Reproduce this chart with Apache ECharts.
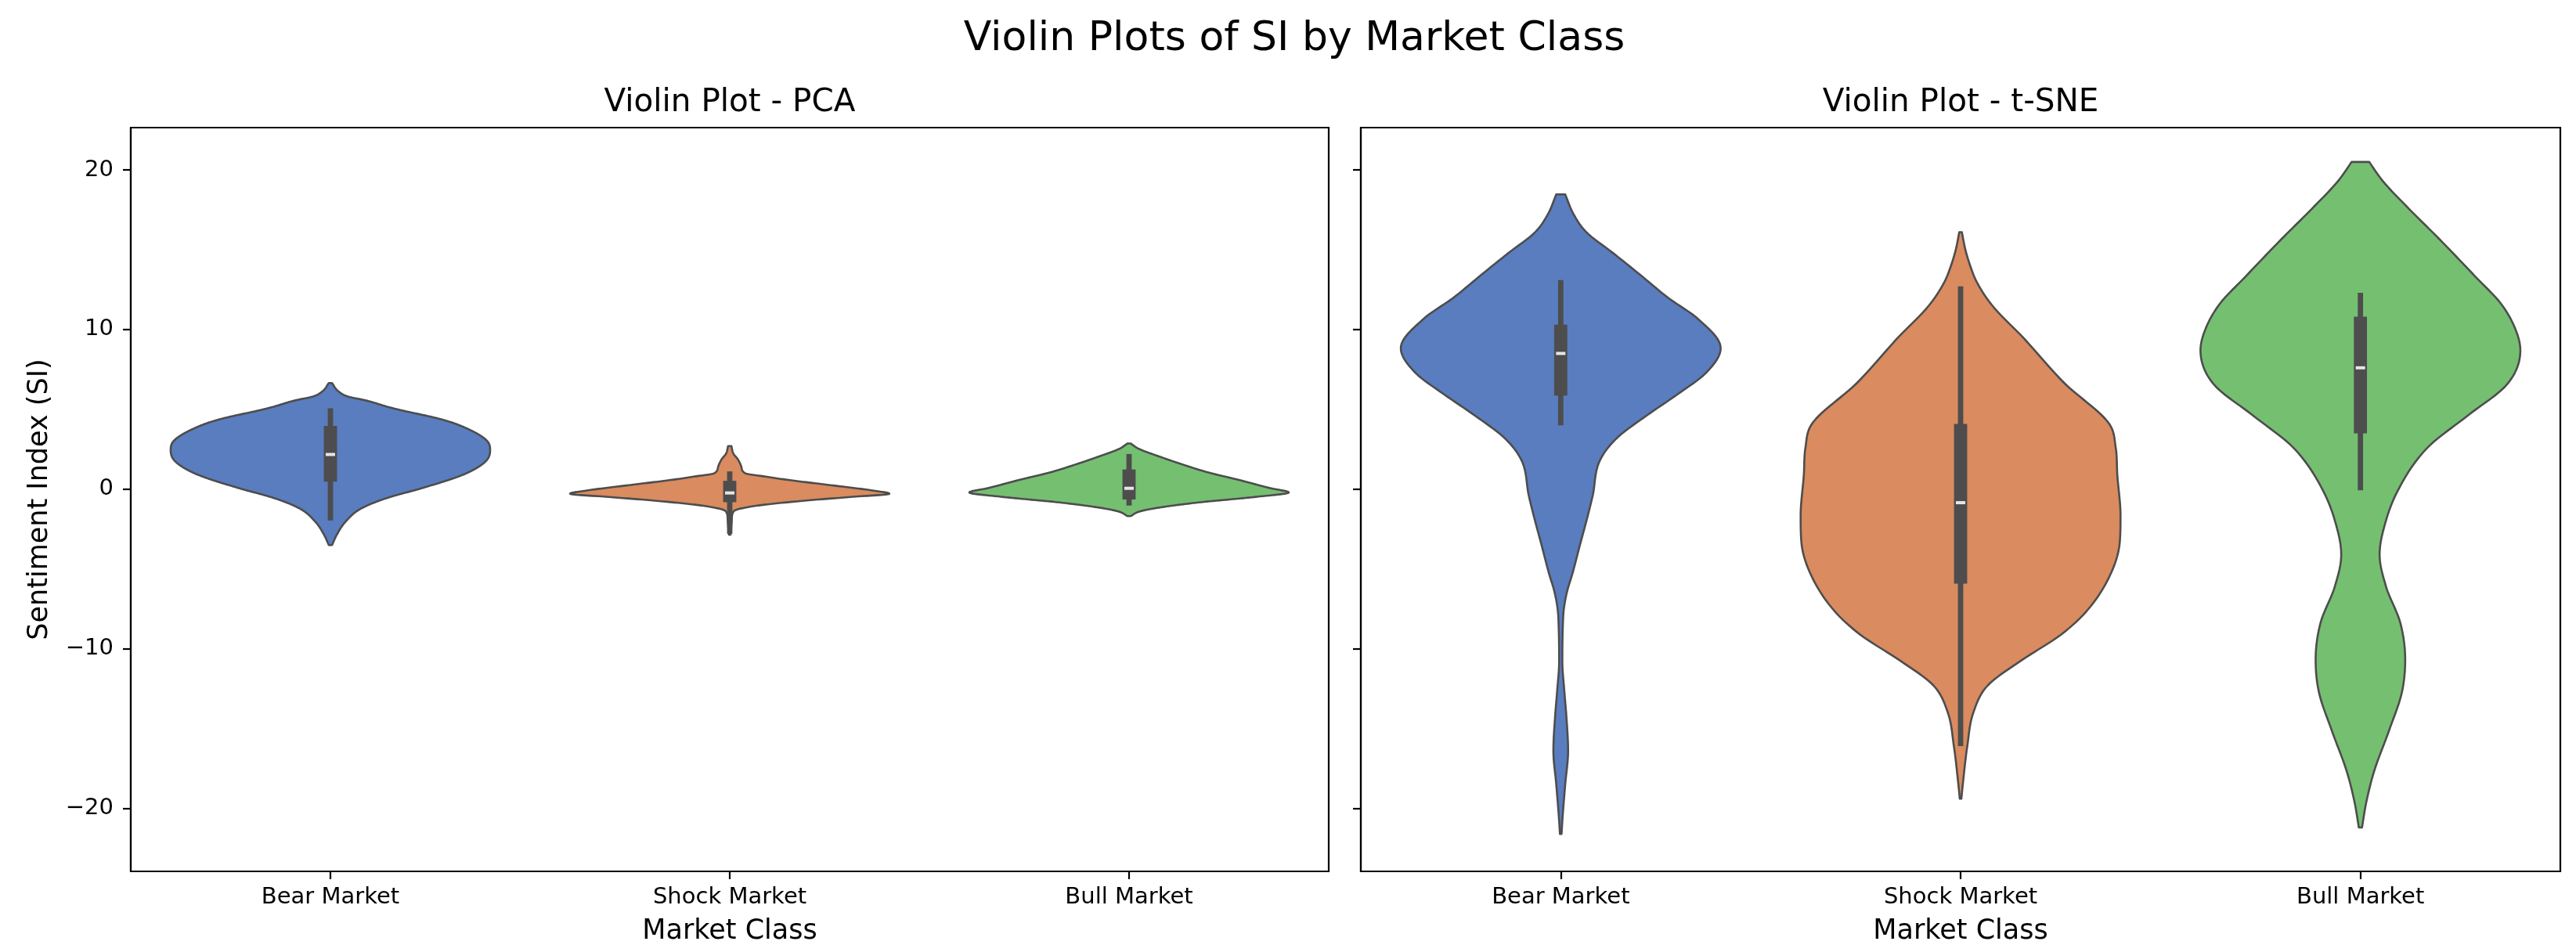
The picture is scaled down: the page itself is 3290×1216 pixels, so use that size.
<!DOCTYPE html>
<html lang="en">
<head>
    <meta charset="UTF-8" />
    <title>Violin Plots of SI by Market Class</title>
    <script src="https://cdn.jsdelivr.net/npm/echarts@6.0.0/dist/echarts.min.js"></script>
    <style>
        html, body { margin: 0; padding: 0; background: #fff; }
        #main { width: 3290px; height: 1216px; }
    </style>
</head>
<body>
    <div id="main"></div>
    <script type="text/javascript">
        // categories and axis ticks
        const categories = ["Bear Market", "Shock Market", "Bull Market"];
        const yTicks = [-20, -10, 0, 10, 20];
        const violinColors = ["#597dbf", "#da8b5f", "#75bf71"];

        // violin outlines: SI level -> relative half width (1 = widest)
        const pcaBearLevels = [6.65, 6.13, 5.8, 5.56, 5.07, 4.33, 3.68, 3.03, 2.45, 1.72, 0.9, 0.08, -0.57, -1.23, -2.04, -2.86, -3.51];
        const pcaBearWidths = [0.01, 0.05, 0.11, 0.22, 0.39, 0.71, 0.88, 0.98, 1.0, 0.97, 0.83, 0.58, 0.35, 0.19, 0.095, 0.04, 0.01];
        const pcaShockLevels = [2.7, 2.21, 1.88, 1.39, 0.98, 0.82, 0.57, 0.25, -0.08, -0.29, -0.49, -0.74, -1.06, -1.39, -1.88, -2.85];
        const pcaShockWidths = [0.01, 0.024, 0.05, 0.073, 0.1, 0.2, 0.37, 0.63, 0.89, 1.0, 0.76, 0.45, 0.155, 0.025, 0.013, 0.005];
        const pcaBullLevels = [2.86, 2.53, 2.04, 1.56, 1.06, 0.57, 0.07, -0.21, -0.49, -0.82, -1.14, -1.39, -1.69];
        const pcaBullWidths = [0.01, 0.06, 0.19, 0.33, 0.49, 0.69, 0.88, 1.0, 0.79, 0.45, 0.2, 0.07, 0.01];

        const tsneBearLevels = [18.47, 17.23, 16.1, 14.77, 13.4, 12.0, 10.65, 8.83, 7.3, 5.94, 4.56, 3.19, 1.8, -0.4, -1.9, -3.5, -5.3, -6.4, -7.55, -8.6, -10.8, -12.6, -14.2, -16.4, -18.5, -20.5, -21.6];
        const tsneBearWidths = [0.028, 0.08, 0.16, 0.33, 0.5, 0.67, 0.86, 1.0, 0.91, 0.73, 0.53, 0.35, 0.245, 0.2, 0.163, 0.12, 0.073, 0.04, 0.019, 0.013, 0.01, 0.022, 0.035, 0.046, 0.028, 0.012, 0.005];
        const tsneShockLevels = [16.1, 15.0, 14.0, 13.0, 11.53, 9.4, 6.63, 4.08, 2.6, 0.89, -1.66, -3.36, -5.49, -7.62, -9.1, -10.8, -12.3, -14.0, -16.1, -18.3, -19.4];
        const tsneShockWidths = [0.008, 0.03, 0.06, 0.1, 0.196, 0.4, 0.65, 0.93, 0.97, 0.98, 1.0, 0.995, 0.93, 0.79, 0.63, 0.37, 0.17, 0.08, 0.042, 0.016, 0.005];
        const tsneBullLevels = [20.5, 19.3, 17.6, 15.6, 13.3, 11.6, 10.0, 8.7, 6.6, 4.6, 2.6, -0.07, -2.7, -4.1, -6.1, -8.4, -10.7, -12.7, -15.1, -17.7, -19.7, -21.2];
        const tsneBullWidths = [0.055, 0.14, 0.3, 0.5, 0.72, 0.88, 0.97, 1.0, 0.92, 0.67, 0.42, 0.235, 0.14, 0.12, 0.16, 0.25, 0.28, 0.26, 0.18, 0.085, 0.035, 0.01];

        // inner box: [whisker low, q1, median, q3, whisker high]
        const pcaBoxes = [[-1.96, 0.46, 2.17, 3.96, 5.07], [-2.8, -0.82, -0.24, 0.52, 1.11], [-1.03, -0.65, 0.05, 1.23, 2.2]];
        const tsneBoxes = [[4.0, 5.86, 8.5, 10.3, 13.1], [-16.1, -5.92, -0.85, 4.08, 12.7], [-0.07, 3.5, 7.6, 10.8, 12.3]];

        const FONT = "DejaVu Sans";
        const LINE = "#4d4d4d";

        // monotone cubic (Fritsch-Carlson) so the outline is smooth between the read points
        function monotoneSampler(xsIn, ysIn) {
            const xs = xsIn.slice().reverse();
            const ys = ysIn.slice().reverse();
            const n = xs.length;
            const m = [];
            for (let k = 0; k < n - 1; k++) m.push((ys[k + 1] - ys[k]) / (xs[k + 1] - xs[k]));
            const t = new Array(n);
            t[0] = m[0];
            t[n - 1] = m[n - 2];
            for (let k = 1; k < n - 1; k++) {
                t[k] = m[k - 1] * m[k] <= 0 ? 0 : (m[k - 1] + m[k]) / 2;
            }
            for (let k = 0; k < n - 1; k++) {
                if (m[k] === 0) { t[k] = 0; t[k + 1] = 0; continue; }
                const a = t[k] / m[k], b = t[k + 1] / m[k];
                const s = a * a + b * b;
                if (s > 9) {
                    const tau = 3 / Math.sqrt(s);
                    t[k] = tau * a * m[k];
                    t[k + 1] = tau * b * m[k];
                }
            }
            return function (x) {
                let k = 0;
                while (k < n - 2 && x > xs[k + 1]) k++;
                const h = xs[k + 1] - xs[k];
                const u = Math.min(1, Math.max(0, (x - xs[k]) / h));
                const u2 = u * u, u3 = u2 * u;
                return (2 * u3 - 3 * u2 + 1) * ys[k] + (u3 - 2 * u2 + u) * h * t[k] +
                    (-2 * u3 + 3 * u2) * ys[k + 1] + (u3 - u2) * h * t[k + 1];
            };
        }

        function violinRenderer(levelsList, widthsList, boxList) {
            return function (params, api) {
                const i = api.value(0);
                const cx = api.coord([i, 0])[0];
                const half = api.size([1, 0])[0] * 0.4;
                const levels = levelsList[i];
                const widthAt = monotoneSampler(levels, widthsList[i]);
                const top = levels[0];
                const bottom = levels[levels.length - 1];
                const steps = 240;
                const right = [];
                const left = [];
                for (let s = 0; s <= steps; s++) {
                    const v = top + (bottom - top) * s / steps;
                    const w = Math.max(0, widthAt(v)) * half;
                    const y = api.coord([i, v])[1];
                    right.push([cx + w, y]);
                    left.unshift([cx - w, y]);
                }
                const b = boxList[i];
                const yLow = api.coord([i, b[0]])[1];
                const yQ1 = api.coord([i, b[1]])[1];
                const yMed = api.coord([i, b[2]])[1];
                const yQ3 = api.coord([i, b[3]])[1];
                const yHigh = api.coord([i, b[4]])[1];
                return {
                    type: "group",
                    children: [
                        {
                            type: "polygon",
                            shape: { points: right.concat(left) },
                            style: { fill: violinColors[i], stroke: LINE, lineWidth: 2.6, lineJoin: "round" }
                        },
                        {
                            type: "rect",
                            shape: { x: cx - 3.4, y: yHigh, width: 6.8, height: yLow - yHigh },
                            style: { fill: LINE }
                        },
                        {
                            type: "rect",
                            shape: { x: cx - 8.4, y: yQ3, width: 16.8, height: yQ1 - yQ3 },
                            style: { fill: LINE }
                        },
                        {
                            type: "rect",
                            shape: { x: cx - 6, y: yMed - 2, width: 12, height: 4 },
                            style: { fill: "#e6e6e6" }
                        }
                    ]
                };
            };
        }

        function makeXAxis(gridIndex) {
            return {
                type: "category",
                gridIndex: gridIndex,
                data: categories,
                axisLine: { show: true, onZero: false, lineStyle: { color: "#000", width: 2.2 } },
                axisTick: { show: true, alignWithLabel: true, length: 10, lineStyle: { color: "#000", width: 2.2 } },
                axisLabel: { color: "#000", fontFamily: FONT, fontSize: 29, margin: 19 },
                splitLine: { show: false }
            };
        }

        function makeYAxis(gridIndex, showLabels) {
            return {
                type: "value",
                gridIndex: gridIndex,
                min: -23.95,
                max: 22.65,
                axisLine: { show: true, onZero: false, lineStyle: { color: "#000", width: 2.2 } },
                axisTick: { show: true, length: 10, customValues: yTicks, lineStyle: { color: "#000", width: 2.2 } },
                axisLabel: {
                    show: showLabels,
                    customValues: yTicks,
                    color: "#000",
                    fontFamily: FONT,
                    fontSize: 29,
                    margin: 22,
                    formatter: (v) => (v < 0 ? "\u2212" + Math.abs(v) : String(v))
                },
                splitLine: { show: false }
            };
        }

        const catData = categories.map((c, i) => [i, 0]);

        const options = {
            backgroundColor: "#fff",
            animation: false,
            grid: [
                { left: 167, top: 163, width: 1530, height: 950, show: true, borderColor: "#000", borderWidth: 2.2, backgroundColor: "transparent" },
                { left: 1738, top: 163, width: 1532, height: 950, show: true, borderColor: "#000", borderWidth: 2.2, backgroundColor: "transparent" }
            ],
            xAxis: [makeXAxis(0), makeXAxis(1)],
            yAxis: [makeYAxis(0, true), makeYAxis(1, false)],
            series: [
                {
                    type: "custom",
                    xAxisIndex: 0,
                    yAxisIndex: 0,
                    data: catData,
                    encode: { x: 0, y: 1 },
                    renderItem: violinRenderer([pcaBearLevels, pcaShockLevels, pcaBullLevels], [pcaBearWidths, pcaShockWidths, pcaBullWidths], pcaBoxes)
                },
                {
                    type: "custom",
                    xAxisIndex: 1,
                    yAxisIndex: 1,
                    data: catData,
                    encode: { x: 0, y: 1 },
                    renderItem: violinRenderer([tsneBearLevels, tsneShockLevels, tsneBullLevels], [tsneBearWidths, tsneShockWidths, tsneBullWidths], tsneBoxes)
                }
            ],
            graphic: [
                { type: "text", x: 1653, y: 50, style: { text: "Violin Plots of SI by Market Class", font: "52px " + FONT, fill: "#000", textAlign: "center", textVerticalAlign: "middle" } },
                { type: "text", x: 932, y: 131, style: { text: "Violin Plot - PCA", font: "40.5px " + FONT, fill: "#000", textAlign: "center", textVerticalAlign: "middle" } },
                { type: "text", x: 2504, y: 131, style: { text: "Violin Plot - t-SNE", font: "40.5px " + FONT, fill: "#000", textAlign: "center", textVerticalAlign: "middle" } },
                { type: "text", x: 932, y: 1190, style: { text: "Market Class", font: "35px " + FONT, fill: "#000", textAlign: "center", textVerticalAlign: "middle" } },
                { type: "text", x: 2504, y: 1190, style: { text: "Market Class", font: "35px " + FONT, fill: "#000", textAlign: "center", textVerticalAlign: "middle" } },
                { type: "text", x: 51, y: 638, rotation: Math.PI / 2, style: { text: "Sentiment Index (SI)", font: "35px " + FONT, fill: "#000", textAlign: "center", textVerticalAlign: "middle" } }
            ]
        };

        const myChart = echarts.init(document.getElementById("main"));
        myChart.setOption(options);
    </script>
</body>
</html>
